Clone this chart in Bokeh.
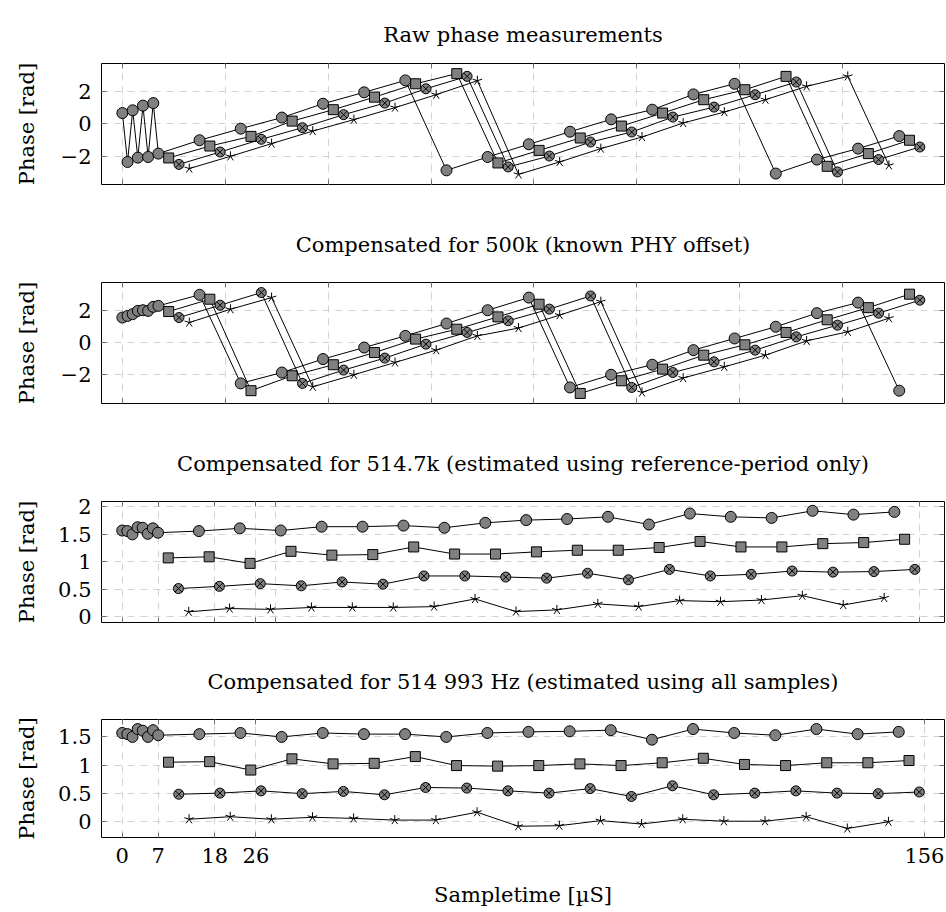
from bokeh.plotting import figure
from bokeh.layouts import column
from bokeh.models import Range1d, FixedTicker, LinearAxis
from bokeh.embed import file_html
from bokeh.resources import INLINE
import math

# ---------------- data ----------------
x_circle = [0, 1, 2, 3, 4, 5, 6, 7, 15, 23, 31, 39, 47, 55, 63, 71, 79, 87, 95,
            103, 111, 119, 127, 135, 143, 151]
x_square = [9, 17, 25, 33, 41, 49, 57, 65, 73, 81, 89, 97, 105, 113, 121, 129,
            137, 145, 153]
x_otimes = [11, 19, 27, 35, 43, 51, 59, 67, 75, 83, 91, 99, 107, 115, 123, 131,
            139, 147, 155]
x_star = [13, 21, 29, 37, 45, 53, 61, 69, 77, 85, 93, 101, 109, 117, 125, 133,
          141, 149]

# Panel 1: raw phase
raw_circle = [0.67, -2.37, 0.84, -2.10, 1.13, -2.06, 1.29, -1.85, -1.02, -0.30,
              0.39, 1.25, 1.96, 2.70, -2.89, -2.06, -1.27, -0.49, 0.28, 0.88,
              1.83, 2.49, -3.09, -2.22, -1.54, -0.76]
raw_square = [-2.12, -1.38, -0.78, 0.17, 0.88, 1.66, 2.49, 3.12, -2.43, -1.65,
              -0.88, -0.14, 0.67, 1.50, 2.12, 2.95, -2.64, -1.85, -1.02]
raw_otimes = [-2.52, -1.75, -0.96, -0.24, 0.57, 1.29, 2.18, 2.95, -2.68, -2.00,
              -1.13, -0.51, 0.42, 1.04, 1.81, 2.60, -2.99, -2.22, -1.44]
raw_star = [-2.78, -2.02, -1.23, -0.45, 0.26, 1.01, 1.81, 2.68, -3.14, -2.37,
            -1.54, -0.82, 0.05, 0.73, 1.50, 2.33, 2.95, -2.58]

# Panel 2: compensated for 500k
c500_circle = [1.54, 1.64, 1.75, 1.95, 1.99, 1.95, 2.20, 2.26, 2.94, -2.52,
               -1.85, -1.02, -0.31, 0.41, 1.17, 1.99, 2.77, -2.77, -1.99, -1.37,
               -0.47, 0.25, 0.97, 1.81, 2.46, -2.97]
c500_square = [1.91, 2.67, -2.97, -2.05, -1.37, -0.62, 0.21, 0.82, 1.58, 2.36,
               -3.14, -2.36, -1.64, -0.78, -0.14, 0.62, 1.40, 2.15, 2.98]
c500_otimes = [1.54, 2.30, 3.08, -2.52, -1.70, -0.96, -0.10, 0.62, 1.34, 2.06,
               2.87, -2.77, -1.85, -1.19, -0.47, 0.35, 1.07, 1.81, 2.61]
c500_star = [1.23, 2.05, 2.77, -2.73, -1.99, -1.23, -0.47, 0.41, 0.89, 1.69,
             2.52, -3.08, -2.19, -1.50, -0.78, 0.10, 0.66, 1.50]

# Panel 3: compensated for 514.7k
c5147_circle = [1.57, 1.56, 1.50, 1.63, 1.62, 1.51, 1.61, 1.53, 1.56, 1.61,
                1.57, 1.64, 1.64, 1.66, 1.62, 1.71, 1.76, 1.78, 1.82, 1.68,
                1.88, 1.82, 1.80, 1.93, 1.86, 1.91]
c5147_square = [1.07, 1.09, 0.97, 1.19, 1.12, 1.13, 1.27, 1.14, 1.14, 1.18,
                1.21, 1.21, 1.26, 1.37, 1.27, 1.27, 1.33, 1.35, 1.41]
c5147_otimes = [0.51, 0.55, 0.60, 0.56, 0.63, 0.59, 0.74, 0.74, 0.72, 0.70,
                0.79, 0.67, 0.86, 0.74, 0.77, 0.83, 0.81, 0.82, 0.86]
c5147_star = [0.085, 0.145, 0.13, 0.165, 0.165, 0.165, 0.18, 0.32, 0.09, 0.12,
              0.23, 0.18, 0.29, 0.27, 0.30, 0.38, 0.21, 0.34]

# Panel 4: compensated for 514 993 Hz
c514993_circle = [1.57, 1.55, 1.50, 1.64, 1.61, 1.50, 1.62, 1.53, 1.55, 1.57,
                  1.50, 1.57, 1.55, 1.55, 1.50, 1.57, 1.59, 1.60, 1.62, 1.45,
                  1.64, 1.57, 1.53, 1.64, 1.55, 1.59]
c514993_square = [1.05, 1.06, 0.91, 1.11, 1.02, 1.03, 1.15, 0.99, 0.98, 0.99,
                  1.02, 0.99, 1.04, 1.12, 1.01, 0.99, 1.04, 1.04, 1.08]
c514993_otimes = [0.48, 0.50, 0.54, 0.49, 0.53, 0.47, 0.60, 0.59, 0.54, 0.50,
                  0.58, 0.44, 0.63, 0.47, 0.50, 0.54, 0.50, 0.49, 0.52]
c514993_star = [0.035, 0.08, 0.035, 0.07, 0.05, 0.02, 0.02, 0.16, -0.09, -0.08,
                0.01, -0.05, 0.035, 0.00, 0.00, 0.08, -0.13, -0.01]

titles = ["Raw phase measurements",
          "Compensated for 500k (known PHY offset)",
          "Compensated for 514.7k (estimated using reference-period only)",
          "Compensated for 514 993 Hz (estimated using all samples)"]

ticks_wrapped = [-2, 0, 2]
ticks_p3 = [0, 0.5, 1, 1.5, 2]
ticks_p4 = [0, 0.5, 1, 1.5]
xticks_p12 = [0, 20, 40, 60, 80, 100, 120, 140]
xticks_p3 = [0, 7, 18, 26, 30, 156]
xticks_p4 = [0, 7, 18, 26, 156]
xlabels_p4 = ["0", "7", "18", "26", "156"]

# ---------------- style ----------------
FONT = "DejaVu Serif"
FS = "21px"
GRAY = "#808080"
GRID = "#d2d2d2"
TICK = "#707070"


def fmt(v):
    if v == int(v):
        s = str(int(v))
    else:
        s = str(v)
    return s.replace("-", "\u2212")


def style_axis(ax, ticks, labels=None, show=True):
    ax.ticker = FixedTicker(ticks=ticks)
    ax.minor_tick_line_color = None
    ax.major_tick_in = 5
    ax.major_tick_out = 0
    ax.major_tick_line_color = TICK
    ax.axis_line_color = None
    if show:
        if labels is None:
            labels = [fmt(t) for t in ticks]
        ax.major_label_overrides = {t: l for t, l in zip(ticks, labels)}
        ax.major_label_text_font = FONT
        ax.major_label_text_font_size = FS
        ax.major_label_text_color = "black"
        ax.major_label_standoff = 10
    else:
        ax.major_label_text_font_size = "0px"
        ax.major_label_standoff = 0
        ax.major_label_overrides = {t: "" for t in ticks}


def panel(title, xr, yr, yticks, xticks, series, top, bottom, frame_h,
          ylabel_standoff, title_standoff, show_x=False, xlabels=None):
    p = figure(width=946, height=top + frame_h + bottom,
               x_range=Range1d(*xr), y_range=Range1d(*yr),
               output_backend="svg", toolbar_location=None,
               min_border_left=101, min_border_right=2,
               min_border_top=top, min_border_bottom=bottom)
    p.outline_line_color = "black"
    p.outline_line_width = 1
    p.background_fill_color = "white"
    p.border_fill_color = "white"

    p.title.text = title
    p.title.align = "center"
    p.title.text_font = FONT
    p.title.text_font_size = FS
    p.title.text_font_style = "normal"
    p.title.text_color = "black"
    p.title.standoff = title_standoff

    style_axis(p.yaxis[0], yticks)
    p.yaxis.axis_label = "Phase [rad]"
    p.yaxis.axis_label_text_font = FONT
    p.yaxis.axis_label_text_font_size = FS
    p.yaxis.axis_label_text_font_style = "normal"
    p.yaxis.axis_label_text_color = "black"
    p.yaxis.axis_label_standoff = ylabel_standoff

    style_axis(p.xaxis[0], xticks, xlabels, show=show_x)
    if show_x:
        p.xaxis.axis_label = "Sampletime [\u00b5S]"
        p.xaxis.axis_label_text_font = FONT
        p.xaxis.axis_label_text_font_size = FS
        p.xaxis.axis_label_text_font_style = "normal"
        p.xaxis.axis_label_text_color = "black"
        p.xaxis.axis_label_standoff = 17

    right = LinearAxis()
    style_axis(right, yticks, show=False)
    p.add_layout(right, "right")
    topax = LinearAxis()
    style_axis(topax, xticks, show=False)
    p.add_layout(topax, "above")

    p.xgrid.ticker = FixedTicker(ticks=xticks)
    p.ygrid.ticker = FixedTicker(ticks=yticks)
    for g in (p.xgrid, p.ygrid):
        g.grid_line_color = GRID
        g.grid_line_dash = "7 6"
        g.grid_line_width = 1

    yc, ys, yo, yst = series
    p.line(x_circle, yc, line_color="black", line_width=1)
    p.scatter(x_circle, yc, marker="circle", size=11, fill_color=GRAY,
              line_color="black", line_width=1)
    p.line(x_square, ys, line_color="black", line_width=1)
    p.scatter(x_square, ys, marker="square", size=10, fill_color=GRAY,
              line_color="black", line_width=1)
    p.line(x_otimes, yo, line_color="black", line_width=1)
    p.scatter(x_otimes, yo, marker="circle_x", size=10, fill_color=GRAY,
              line_color="black", line_width=1)
    p.line(x_star, yst, line_color="black", line_width=1)
    for k in range(5):
        a = math.pi / 2 + k * 2 * math.pi / 5
        p.ray(x_star, yst, length=5, length_units="screen", angle=a,
              line_color="black", line_width=1)
    return p


p1 = panel(titles[0], (-4.06, 159.8), (-3.77, 3.75), ticks_wrapped, xticks_p12,
           (raw_circle, raw_square, raw_otimes, raw_star), 63, 18, 121, 19, 33)
p2 = panel(titles[1], (-4.06, 159.8), (-3.76, 3.70), ticks_wrapped, xticks_p12,
           (c500_circle, c500_square, c500_otimes, c500_star), 80, 18, 121, 19, 51)
p3 = panel(titles[2], (-4.05, 160.8), (-0.11, 2.10), ticks_p3, xticks_p3,
           (c5147_circle, c5147_square, c5147_otimes, c5147_star), 80, 18, 121, 16, 51)
p4 = panel(titles[3], (-4.03, 159.9), (-0.29, 1.81), ticks_p4, xticks_p4,
           (c514993_circle, c514993_square, c514993_otimes, c514993_star),
           79, 70, 120, 16, 52, show_x=True, xlabels=xlabels_p4)

layout = column(p1, p2, p3, p4, spacing=0)
open("out.html", "w").write(file_html(layout, INLINE))
